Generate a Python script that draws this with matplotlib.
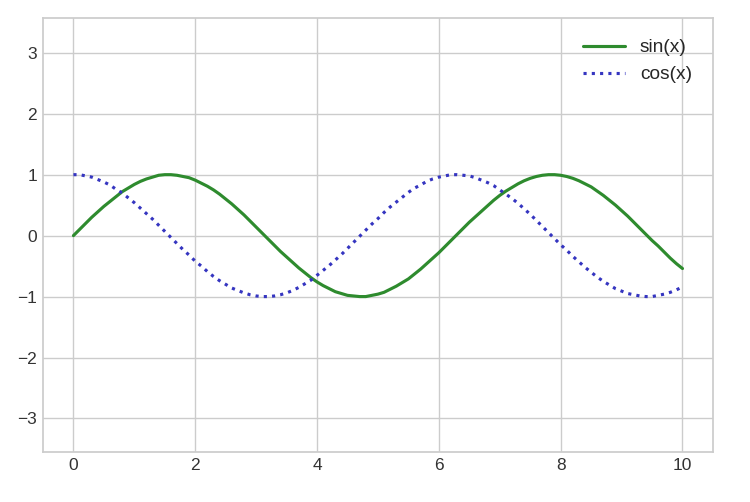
import matplotlib
matplotlib.use('Agg')
import matplotlib.pyplot as plt

# values at 0.1 steps
x_vals = [round(0.1 * i, 1) for i in range(101)]
sin_vals = [0.00, 0.10, 0.20, 0.30, 0.39, 0.48, 0.56, 0.64, 0.72, 0.78,
            0.84, 0.89, 0.93, 0.96, 0.99, 1.00, 1.00, 0.99, 0.97, 0.95,
            0.91, 0.86, 0.81, 0.75, 0.68, 0.60, 0.52, 0.43, 0.34, 0.24,
            0.14, 0.04, -0.06, -0.16, -0.26, -0.35, -0.44, -0.53, -0.61, -0.69,
            -0.76, -0.82, -0.87, -0.92, -0.95, -0.98, -0.99, -1.00, -1.00, -0.98,
            -0.96, -0.93, -0.88, -0.83, -0.77, -0.71, -0.63, -0.55, -0.46, -0.37,
            -0.28, -0.18, -0.08, 0.02, 0.12, 0.22, 0.31, 0.40, 0.49, 0.58,
            0.66, 0.73, 0.79, 0.85, 0.90, 0.94, 0.97, 0.99, 1.00, 1.00,
            0.99, 0.97, 0.94, 0.90, 0.85, 0.80, 0.73, 0.66, 0.58, 0.50,
            0.41, 0.32, 0.22, 0.12, 0.02, -0.08, -0.17, -0.27, -0.37, -0.46,
            -0.54]
cos_vals = [1.00, 1.00, 0.98, 0.96, 0.92, 0.88, 0.83, 0.76, 0.70, 0.62,
            0.54, 0.45, 0.36, 0.27, 0.17, 0.07, -0.03, -0.13, -0.23, -0.32,
            -0.42, -0.50, -0.59, -0.67, -0.74, -0.80, -0.86, -0.90, -0.94, -0.97,
            -0.99, -1.00, -1.00, -0.99, -0.97, -0.94, -0.90, -0.85, -0.79, -0.73,
            -0.65, -0.57, -0.49, -0.40, -0.31, -0.21, -0.11, -0.01, 0.09, 0.19,
            0.28, 0.38, 0.47, 0.55, 0.63, 0.71, 0.78, 0.83, 0.89, 0.93,
            0.96, 0.98, 1.00, 1.00, 0.99, 0.98, 0.95, 0.91, 0.87, 0.82,
            0.75, 0.68, 0.61, 0.53, 0.44, 0.35, 0.25, 0.15, 0.05, -0.05,
            -0.15, -0.24, -0.34, -0.43, -0.52, -0.60, -0.68, -0.75, -0.81, -0.87,
            -0.91, -0.95, -0.97, -0.99, -1.00, -1.00, -0.98, -0.96, -0.93, -0.89,
            -0.84]
labels = ['sin(x)', 'cos(x)']

plt.style.use('seaborn-v0_8-whitegrid')
plt.rcParams['font.family'] = ['Liberation Sans', 'DejaVu Sans']

fig = plt.figure(figsize=(6, 4.016), dpi=125)
ax = fig.add_axes([0.0573, 0.0996, 0.8933, 0.8645])

ax.plot(x_vals, sin_vals, '-', color='#2e8b2e', lw=1.8, label=labels[0])
ax.plot(x_vals, cos_vals, ':', color='#3535c0', lw=1.8, label=labels[1])

ax.set_xlim(-0.5, 10.5)
ax.set_ylim(-3.55, 3.57)
ax.set_xticks([0, 2, 4, 6, 8, 10])
ax.set_yticks([-3, -2, -1, 0, 1, 2, 3])
ax.tick_params(labelsize=10, labelcolor='#333333')
for s in ax.spines.values():
    s.set_color('#cccccc')
ax.legend(loc='upper right', frameon=False, fontsize=11, handlelength=2.2,
          borderaxespad=0.7)

fig.savefig('out.png', dpi=125)
